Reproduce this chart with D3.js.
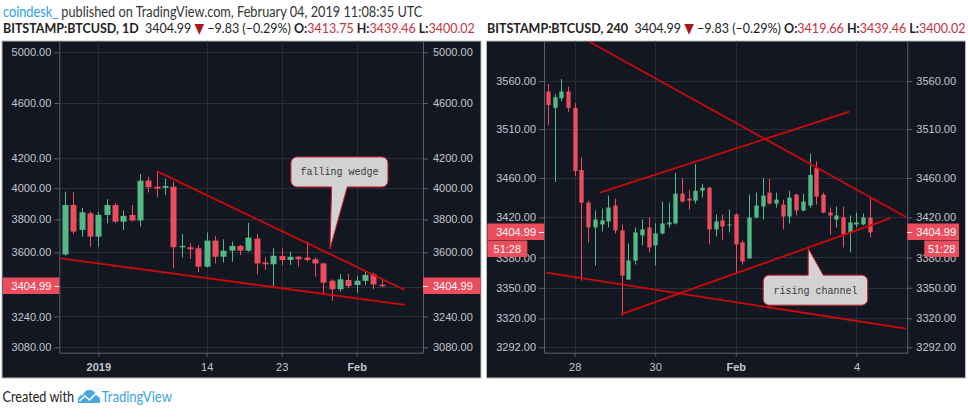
<!DOCTYPE html>
<html lang="en">
<head>
<meta charset="utf-8">
<title>BTCUSD falling wedge / rising channel</title>
<script src="https://cdn.jsdelivr.net/npm/d3@7"></script>
<style>
  body { margin: 0; background: #ffffff; }
</style>
</head>
<body>
<script>

// -- Data -- //

// daily candles, one per UTC day from Dec 28 2018
const dailyStart = new Date(Date.UTC(2018, 11, 28));
const dailyOpen  = [3588, 3891, 3735, 3838, 3694, 3828, 3891, 3786, 3828, 3793, 4050, 4010, 4003, 4010, 3630, 3630, 3624, 3516, 3670, 3574, 3610, 3638, 3610, 3682, 3540, 3530, 3578, 3555, 3574, 3569, 3559, 3535, 3436, 3388, 3440, 3412, 3435, 3474, 3413.75];
const dailyHigh  = [3977, 3973, 3874, 3849, 3849, 3928, 3902, 3855, 3891, 4094, 4076, 4115, 4065, 4043, 3710, 3654, 3644, 3719, 3698, 3678, 3664, 3644, 3780, 3710, 3574, 3624, 3624, 3604, 3578, 3664, 3571, 3539, 3444, 3474, 3474, 3463, 3488, 3482, 3439.46];
const dailyLow   = [3580, 3710, 3694, 3634, 3634, 3776, 3776, 3735, 3786, 3755, 3971, 3941, 3956, 3507, 3570, 3561, 3484, 3512, 3535, 3541, 3545, 3584, 3604, 3472, 3497, 3403, 3526, 3526, 3516, 3545, 3459, 3366, 3325, 3375, 3393, 3369, 3412, 3388, 3400.02];
const dailyClose = [3891, 3725, 3845, 3694, 3828, 3891, 3786, 3822, 3793, 4050, 4006, 3997, 4014, 3630, 3638, 3618, 3516, 3670, 3574, 3610, 3638, 3610, 3688, 3535, 3530, 3580, 3555, 3574, 3559, 3555, 3535, 3425, 3388, 3444, 3406, 3436, 3469, 3414.82, 3404.99];

// 4 hour candles from Jan 27 2019 08:00 UTC
const h4Start = new Date(Date.UTC(2019, 0, 27, 8));
const h4Open  = [3549, 3532, 3542, 3549, 3532, 3468, 3435, 3410, 3413, 3416, 3432, 3407, 3358, 3377, 3402, 3410, 3392, 3404, 3413, 3414, 3444, 3439, 3437, 3447, 3450, 3408, 3417, 3412, 3423, 3395, 3379, 3420, 3431, 3445, 3434, 3433, 3421, 3443, 3427, 3432, 3470, 3443, 3425, 3418, 3420, 3405, 3413, 3413, 3419.66];
const h4High  = [3557, 3546, 3562, 3554, 3537, 3481, 3437, 3427, 3429, 3442, 3439, 3413, 3394, 3410, 3418, 3420, 3414, 3436, 3435, 3465, 3460, 3448, 3474, 3454, 3451, 3423, 3423, 3428, 3424, 3397, 3443, 3445, 3460, 3459, 3445, 3438, 3447, 3444, 3444, 3485, 3477, 3445, 3430, 3431, 3431, 3422, 3425, 3424, 3439.46];
const h4Low   = [3514, 3456, 3539, 3528, 3462, 3357, 3395, 3372, 3406, 3410, 3404, 3323, 3358, 3373, 3392, 3385, 3372, 3403, 3410, 3413, 3435, 3428, 3434, 3440, 3393, 3401, 3397, 3405, 3365, 3373, 3379, 3419, 3418, 3433, 3430, 3408, 3414, 3422, 3426, 3430, 3433, 3424, 3403, 3410, 3390, 3385, 3410, 3412, 3400.02];
const h4Close = [3535, 3543, 3549, 3532, 3467, 3435, 3410, 3418, 3417, 3430, 3407, 3362, 3377, 3405, 3408, 3390, 3404, 3414, 3415, 3444, 3436, 3437, 3447, 3450, 3408, 3416, 3411, 3413, 3393, 3376, 3420, 3432, 3442, 3434, 3438, 3421, 3440, 3427, 3436, 3463, 3441, 3425, 3422, 3422, 3403, 3415, 3415, 3420, 3404.99];

// axis ticks
const dailyPriceTicks = [3080, 3240, 3400, 3600, 3800, 4000, 4200, 4600, 5000];
const h4PriceTicks    = [3292, 3320, 3350, 3380, 3420, 3460, 3510, 3560];
const dailyTimeTicks  = ["2019-01-01", "2019-01-14", "2019-01-23", "2019-02-01"];
const dailyTimeLabels = ["2019", "14", "23", "Feb"];
const h4TimeTicks     = ["2019-01-28", "2019-01-30", "2019-02-01", "2019-02-04"];
const h4TimeLabels    = ["28", "30", "Feb", "4"];
const boldLabels      = ["2019", "Feb"];

// drawn trend lines [time, price]
const wedgeUpper   = [["2019-01-08T00:00Z", 4114], ["2019-02-06T19:00Z", 3384]];
const wedgeLower   = [["2018-12-27T12:00Z", 3565], ["2019-02-06T19:00Z", 3302]];
const h4DescUpper  = [["2019-01-28T09:00Z", 3601], ["2019-02-05T05:30Z", 3420.5]];
const h4DescLower  = [["2019-01-27T07:00Z", 3365], ["2019-02-05T05:30Z", 3310]];
const channelUpper = [["2019-01-28T15:00Z", 3445], ["2019-02-03T19:45Z", 3528]];
const channelLower = [["2019-01-29T03:30Z", 3324], ["2019-02-04T20:00Z", 3419]];

// callout anchors
const wedgeNote   = { text: "falling wedge",  at: ["2019-01-28T19:00Z", 3620] };
const channelNote = { text: "rising channel", at: ["2019-02-02T19:15Z", 3389] };

const countdown = "51:28";

// -- Setting -- //

const canvasWidth = 968;
const canvasHeight = 419;

const upColor = "#53b987";
const downColor = "#eb4d5c";
const bgColor = "#131722";
const gridColor = "#2a2e39";
const axisColor = "#5d606b";
const labelColor = "#c3c6ce";
const lineColor = "#cc0a0a";
const valueRed = "#c8303c";

const canvas = d3.select("body")
    .append("svg")
    .attr("id", "canvas")
    .attr("width", canvasWidth)
    .attr("height", canvasHeight)
    .style("display", "block");

const fmt = d3.format(".2f");
const minus = v => (v < 0 ? "\u2212" : "+") + Math.abs(v).toFixed(2);

// stretch a text block horizontally to a given width
let fitWidth = function(sel, x0, y, width) {
    let w = sel.node().getBBox().width;
    sel.attr("transform", `translate(${x0},${y}) scale(${width / w},1)`);
};

// rounded box with a pointer tail
let calloutPath = function(x0, y0, x1, y1, r, ta, tb, tip, side) {
    const p = d3.path();
    p.moveTo(x0 + r, y0);
    if (side === "top") {
        p.lineTo(ta, y0); p.lineTo(tip[0], tip[1]); p.lineTo(tb, y0);
    }
    p.lineTo(x1 - r, y0);
    p.arcTo(x1, y0, x1, y0 + r, r);
    p.lineTo(x1, y1 - r);
    p.arcTo(x1, y1, x1 - r, y1, r);
    if (side === "bottom") {
        p.lineTo(tb, y1); p.lineTo(tip[0], tip[1]); p.lineTo(ta, y1);
    }
    p.lineTo(x0 + r, y1);
    p.arcTo(x0, y1, x0, y1 - r, r);
    p.lineTo(x0, y0 + r);
    p.arcTo(x0, y0, x0 + r, y0, r);
    p.closePath();
    return p.toString();
};

// -- Visualisation -- //

let renderPanel = function(cfg) {

    const g = canvas.append("g");
    const pl = cfg.plot;

    g.append("rect")
        .attr("x", cfg.panel[0]).attr("y", cfg.panel[1])
        .attr("width", cfg.panel[2]).attr("height", cfg.panel[3])
        .attr("fill", bgColor)
        .attr("stroke", "#b9b9b9")
        .attr("stroke-width", 1);

    const x = d3.scaleUtc().domain(cfg.xDomain).range([pl.left, pl.right]);
    const y = d3.scaleLog().domain(cfg.yDomain).range([pl.bottom, pl.top]);
    const tTicks = cfg.timeTicks.map(d => new Date(d));

    // grid
    g.append("g")
        .selectAll("line")
        .data(cfg.priceTicks)
        .join("line")
            .attr("x1", pl.left).attr("x2", pl.right)
            .attr("y1", d => Math.round(y(d)) + 0.5)
            .attr("y2", d => Math.round(y(d)) + 0.5)
            .attr("stroke", gridColor);
    g.append("g")
        .selectAll("line")
        .data(tTicks)
        .join("line")
            .attr("x1", d => Math.round(x(d)) + 0.5)
            .attr("x2", d => Math.round(x(d)) + 0.5)
            .attr("y1", pl.top).attr("y2", pl.bottom)
            .attr("stroke", gridColor);

    // axes
    let styleAxis = function(a) {
        a.select(".domain").attr("stroke", axisColor);
        a.selectAll(".tick line").attr("stroke", axisColor);
        a.selectAll("text")
            .attr("fill", labelColor)
            .attr("font-family", "'Liberation Sans', Arial, sans-serif")
            .attr("font-size", 11);
    };

    g.append("g")
        .attr("transform", `translate(${pl.left},0)`)
        .call(d3.axisLeft(y).tickValues(cfg.priceTicks).tickFormat(fmt).tickSize(5).tickSizeOuter(0).tickPadding(3))
        .call(styleAxis);
    g.append("g")
        .attr("transform", `translate(${pl.right},0)`)
        .call(d3.axisRight(y).tickValues(cfg.priceTicks).tickFormat(fmt).tickSize(5).tickSizeOuter(0).tickPadding(cfg.rightPad))
        .call(styleAxis);
    g.append("g")
        .attr("transform", `translate(0,${pl.bottom})`)
        .call(d3.axisBottom(x).tickValues(tTicks).tickFormat((d, i) => cfg.timeLabels[i]).tickSize(4).tickSizeOuter(0).tickPadding(7))
        .call(styleAxis)
        .call(a => a.selectAll("text")
            .attr("font-weight", (d, i) => boldLabels.includes(cfg.timeLabels[i]) ? "bold" : "normal"));

    // candles
    const clipId = "clip_" + cfg.id;
    g.append("clipPath").attr("id", clipId)
        .append("rect")
        .attr("x", pl.left).attr("y", pl.top)
        .attr("width", pl.right - pl.left).attr("height", pl.bottom - pl.top);

    const plotG = g.append("g").attr("clip-path", `url(#${clipId})`);
    const n = cfg.open.length;
    const dates = cfg.interval.range(cfg.start, cfg.interval.offset(cfg.start, n));
    const step = x(cfg.interval.offset(cfg.start, 1)) - x(cfg.start);
    const bw = step * cfg.bodyFrac;
    const colour = i => cfg.close[i] >= cfg.open[i] ? upColor : downColor;

    let candles = plotG.append("g")
        .selectAll("g")
        .data(d3.range(n))
        .join("g");

    candles.append("line")
        .attr("x1", i => Math.round(x(dates[i])) + 0.5)
        .attr("x2", i => Math.round(x(dates[i])) + 0.5)
        .attr("y1", i => y(cfg.high[i]))
        .attr("y2", i => y(cfg.low[i]))
        .attr("stroke", colour);

    candles.append("rect")
        .attr("x", i => Math.round(x(dates[i])) + 0.5 - bw / 2)
        .attr("width", bw)
        .attr("y", i => y(Math.max(cfg.open[i], cfg.close[i])))
        .attr("height", i => Math.max(1, y(Math.min(cfg.open[i], cfg.close[i])) - y(Math.max(cfg.open[i], cfg.close[i]))))
        .attr("fill", colour);

    // trend lines
    const line = d3.line()
        .x(d => x(new Date(d[0])))
        .y(d => y(d[1]));

    plotG.append("g")
        .selectAll("path")
        .data(cfg.trends)
        .join("path")
            .attr("d", line)
            .attr("fill", "none")
            .attr("stroke", lineColor)
            .attr("stroke-width", 1.8);

    // callout
    const tip = [x(new Date(cfg.note.at[0])), y(cfg.note.at[1])];
    const b = cfg.noteBox;
    g.append("path")
        .attr("d", calloutPath(tip[0] + b[0], tip[1] + b[1], tip[0] + b[2], tip[1] + b[3], 6,
            tip[0] + cfg.noteTail[0], tip[0] + cfg.noteTail[1], tip, cfg.noteSide))
        .attr("fill", "#d2d2d2")
        .attr("stroke", "#d0202a")
        .attr("stroke-width", 1);
    g.append("text")
        .attr("x", tip[0] + (b[0] + b[2]) / 2)
        .attr("y", tip[1] + (b[1] + b[3]) / 2 + 3.5)
        .attr("text-anchor", "middle")
        .attr("font-family", "'Liberation Mono', 'DejaVu Sans Mono', monospace")
        .attr("font-size", 10)
        .attr("fill", "#3a3a3a")
        .text(cfg.note.text);

    // last price tags
    const last = cfg.close[n - 1];
    const yl = Math.round(y(last));
    let tags = [
        { x0: cfg.leftTag[0], x1: cfg.leftTag[1], yc: yl, text: fmt(last), side: "left" },
        { x0: cfg.rightTag[0], x1: cfg.rightTag[1], yc: yl, text: fmt(last), side: "right" }
    ];
    if (cfg.countdown) {
        tags.push({ x0: cfg.leftCount[0], x1: cfg.leftCount[1], yc: yl + 17, text: countdown, side: "mid" });
        tags.push({ x0: cfg.rightCount[0], x1: cfg.rightCount[1], yc: yl + 17, text: countdown, side: "mid" });
    }

    let tagG = g.append("g")
        .selectAll("g")
        .data(tags)
        .join("g");

    tagG.append("rect")
        .attr("x", d => d.x0).attr("y", d => d.yc - 8.5)
        .attr("width", d => d.x1 - d.x0).attr("height", 16.5)
        .attr("fill", downColor);
    tagG.filter(d => d.side !== "mid")
        .append("line")
        .attr("x1", d => d.side === "left" ? pl.left - 5 : pl.right)
        .attr("x2", d => d.side === "left" ? pl.left : pl.right + 5)
        .attr("y1", d => d.yc + 0.5).attr("y2", d => d.yc + 0.5)
        .attr("stroke", "#ffffff");
    tagG.append("text")
        .attr("x", d => d.side === "left" ? pl.left - 8 : d.side === "right" ? pl.right + 5 + cfg.rightPad : (d.x0 + d.x1) / 2)
        .attr("y", d => d.yc + 4)
        .attr("text-anchor", d => d.side === "left" ? "end" : d.side === "right" ? "start" : "middle")
        .attr("font-family", "'Liberation Sans', Arial, sans-serif")
        .attr("font-size", 11)
        .attr("fill", "#ffffff")
        .text(d => d.text);
};

renderPanel({
    id: "daily",
    panel: [2, 41, 479, 337],
    plot: { left: 59.3, right: 423, top: 41, bottom: 352.7 },
    xDomain: [new Date(Date.UTC(2018, 11, 27, 7, 40)), new Date(Date.UTC(2019, 1, 8, 23, 0))],
    yDomain: [3052.9, 5093.7],
    priceTicks: dailyPriceTicks,
    timeTicks: dailyTimeTicks,
    timeLabels: dailyTimeLabels,
    rightPad: 5,
    start: dailyStart,
    interval: d3.utcDay,
    bodyFrac: 0.72,
    open: dailyOpen, high: dailyHigh, low: dailyLow, close: dailyClose,
    trends: [wedgeUpper, wedgeLower],
    note: wedgeNote,
    noteBox: [-39, -92, 58, -62],
    noteTail: [1.7, 17.3],
    noteSide: "bottom",
    leftTag: [3, 59.3],
    rightTag: [423, 480.7],
    countdown: false
});

renderPanel({
    id: "h4",
    panel: [486.5, 41, 479, 337],
    plot: { left: 544, right: 907.3, top: 41, bottom: 352.7 },
    xDomain: [new Date(Date.UTC(2019, 0, 27, 5, 41)), new Date(Date.UTC(2019, 1, 5, 6, 19))],
    yDomain: [3286.7, 3602.1],
    priceTicks: h4PriceTicks,
    timeTicks: h4TimeTicks,
    timeLabels: h4TimeLabels,
    rightPad: 4,
    start: h4Start,
    interval: d3.utcHour.every(4),
    bodyFrac: 0.65,
    open: h4Open, high: h4High, low: h4Low, close: h4Close,
    trends: [h4DescUpper, h4DescLower, channelUpper, channelLower],
    note: channelNote,
    noteBox: [-45, 26.7, 59.4, 56.7],
    noteTail: [0, 15],
    noteSide: "top",
    leftTag: [487.3, 544],
    rightTag: [907.3, 959],
    countdown: true,
    leftCount: [487.3, 527.3],
    rightCount: [924.3, 959]
});

// -- Header and footer -- //

const hdrFont = "Lato, 'Open Sans', sans-serif";

let line1 = canvas.append("text")
    .attr("font-family", hdrFont)
    .attr("font-size", 14.5)
    .attr("fill", "#333333");
line1.append("tspan").attr("fill", "#2ba1e6").text("coindesk_");
line1.append("tspan").text(" published on TradingView.com, February 04, 2019 11:08:35 UTC");
fitWidth(line1, 3, 16.5, 420);

let lastIdx = dailyClose.length - 1;
let change = dailyClose[lastIdx] - dailyClose[lastIdx - 1];
let changePct = change / dailyClose[lastIdx - 1] * 100;

let quoteLine = function(title, o, h, l, x0, width) {
    let t = canvas.append("text")
        .attr("font-family", hdrFont)
        .attr("font-size", 14)
        .attr("fill", "#222222");
    t.append("tspan").attr("font-weight", "bold").text(title);
    t.append("tspan").text("\u00a0 " + fmt(dailyClose[lastIdx]) + " ");
    t.append("tspan").attr("fill", "#a81818").attr("font-family", "'DejaVu Sans', sans-serif").attr("font-size", 14).text("\u25bc");
    t.append("tspan").text(" " + minus(change) + " (" + minus(changePct) + "%) ");
    [["O:", o], ["H:", h], ["L:", l]].forEach(function(p, i) {
        t.append("tspan").attr("font-weight", "bold").text((i ? " " : "") + p[0]);
        t.append("tspan").attr("fill", valueRed).text(fmt(p[1]));
    });
    fitWidth(t, x0, 33, width);
};

quoteLine("BITSTAMP:BTCUSD, 1D", dailyOpen[lastIdx], dailyHigh[lastIdx], dailyLow[lastIdx], 3, 472);
quoteLine("BITSTAMP:BTCUSD, 240", h4Open[h4Open.length - 1], h4High[h4High.length - 1], h4Low[h4Low.length - 1], 487, 479);

let footer = canvas.append("g");
let created = footer.append("text")
    .attr("font-family", hdrFont)
    .attr("font-size", 14.5)
    .attr("fill", "#222222")
    .text("Created with");
fitWidth(created, 2.5, 401.5, 71.5);

// little TradingView cloud mark
footer.append("path")
    .attr("d", "M78,403 L78,399 Q79,395 83,395 Q85,389.5 90,390 Q95,390.5 96,395 Q100,396 100,400 L100,403 Z")
    .attr("fill", "#4aa8e0");
footer.append("path")
    .attr("d", "M79.5,401 L85,396 L89.5,400 L96,393.5 L99,396.5")
    .attr("fill", "none")
    .attr("stroke", "#ffffff")
    .attr("stroke-width", 1.6);

let brand = footer.append("text")
    .attr("font-family", hdrFont)
    .attr("font-size", 14.5)
    .attr("fill", "#3fa3e0")
    .text("TradingView");
fitWidth(brand, 101.5, 401.5, 71);

</script>
</body>
</html>
